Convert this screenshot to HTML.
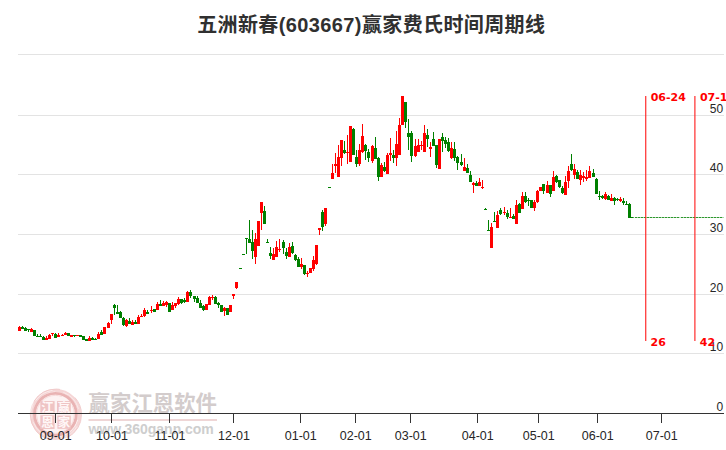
<!DOCTYPE html>
<html lang="zh"><head><meta charset="utf-8"><title>五洲新春(603667)赢家费氏时间周期线</title>
<style>
html,body{margin:0;padding:0;background:#fff}
body{width:726px;height:450px;overflow:hidden;font-family:"Liberation Sans",sans-serif}
svg{display:block}
</style></head><body>
<svg width="726" height="450" viewBox="0 0 726 450" role="img" aria-label="五洲新春(603667)赢家费氏时间周期线">
<rect width="726" height="450" fill="#fff"/>
<g id="wm">
<g fill="none">
<circle cx="55.7" cy="414.5" r="25.3" fill="#fdf3f3" stroke="none"/>
<circle cx="55.7" cy="414.5" r="23.9" stroke-width="3.3" stroke="#f5d6d6"/>
<path d="M34.51 406.79A22.55 22.55 0 0 1 54.91 391.96" stroke="#fff" stroke-width="0.75" stroke-linecap="round" opacity="0.9"/>
<path d="M35.63 400.45A24.5 24.5 0 0 1 52.29 390.24" stroke="#fff" stroke-width="0.6" stroke-linecap="round" opacity="0.9"/>
<path d="M77.53 420.35A22.6 22.6 0 0 1 57.67 437.01" stroke="#fff" stroke-width="0.75" stroke-linecap="round" opacity="0.9"/>
<path d="M76.83 426.70A24.4 24.4 0 0 1 60.77 438.37" stroke="#fff" stroke-width="0.55" stroke-linecap="round" opacity="0.9"/>
<path d="M51.60 437.74A23.6 23.6 0 0 1 33.52 422.57" stroke="#fff" stroke-width="0.5" stroke-linecap="round" opacity="0.9"/>
<path d="M63.70 392.51A23.4 23.4 0 0 1 78.30 408.44" stroke="#fff" stroke-width="0.5" stroke-linecap="round" opacity="0.9"/>
<path d="M31.08 418.84A25 25 0 0 1 33.04 403.93" stroke="#fff" stroke-width="0.5" stroke-linecap="round" opacity="0.9"/>
<circle cx="55.9" cy="414.7" r="25.6" stroke-width="0.9" stroke="#efc6c6" stroke-dasharray="48 18 36 12 30 17" stroke-dashoffset="20"/>
<circle cx="55.4" cy="414.3" r="20.9" stroke-width="2.9" stroke="#e9b3b3"/>
<circle cx="55.4" cy="414.3" r="18.9" stroke-width="0.8" stroke="#f5d6d6" stroke-dasharray="35 10 50 14"/>
</g>
<rect x="40.3" y="401.1" width="14.3" height="11.6" fill="#efc4c4"/>
<rect x="57" y="401.1" width="13.8" height="11.6" fill="#efc4c4"/>
<rect x="40.3" y="415.2" width="14.3" height="13.8" fill="#efc4c4"/>
<rect x="57.4" y="415.6" width="13.4" height="13.2" fill="#efc4c4"/>
<g font-family="'Liberation Sans','Noto Sans CJK SC',sans-serif" font-weight="bold" font-size="12.5" fill="#fff7f7" text-anchor="middle">
<text x="47.45" y="411.6">江</text>
<text x="63.9" y="411.7">赢</text>
<text x="47.45" y="426.7">恩</text>
<text x="64.1" y="427">家</text>
</g>
<text x="88.6" y="410.6" font-family="'Liberation Sans','Noto Sans CJK SC',sans-serif" font-weight="bold" font-size="21.4" fill="#d3cccc" textLength="128.4" lengthAdjust="spacing">赢家江恩软件</text>
<rect x="88.5" y="419" width="128.5" height="2" fill="#efd6d6"/>
<text x="88.5" y="434.4" font-family="'Liberation Sans',sans-serif" font-weight="bold" font-size="14" fill="#cecece" textLength="125.3" lengthAdjust="spacing">www.360gann.com</text>
</g>
<g shape-rendering="crispEdges">
<rect x="18" y="54" width="706" height="1" fill="#e3e3e3"/>
<rect x="18" y="115" width="706" height="1" fill="#e3e3e3"/>
<rect x="18" y="174" width="706" height="1" fill="#e3e3e3"/>
<rect x="18" y="234" width="706" height="1" fill="#e3e3e3"/>
<rect x="18" y="294" width="706" height="1" fill="#e3e3e3"/>
<rect x="18" y="353" width="706" height="1" fill="#e3e3e3"/>
<rect x="18" y="413" width="706" height="1" fill="#333"/>
<rect x="55" y="414" width="1" height="9" fill="#333"/>
<rect x="111" y="414" width="1" height="9" fill="#333"/>
<rect x="169" y="414" width="1" height="9" fill="#333"/>
<rect x="233" y="414" width="1" height="9" fill="#333"/>
<rect x="300" y="414" width="1" height="9" fill="#333"/>
<rect x="355" y="414" width="1" height="9" fill="#333"/>
<rect x="410" y="414" width="1" height="9" fill="#333"/>
<rect x="477" y="414" width="1" height="9" fill="#333"/>
<rect x="538" y="414" width="1" height="9" fill="#333"/>
<rect x="597" y="414" width="1" height="9" fill="#333"/>
<rect x="661" y="414" width="1" height="9" fill="#333"/>
</g>
<g id="axis-labels" fill="#262626" font-family="'Liberation Sans',sans-serif">
<g font-size="12.5" text-anchor="middle">
<text x="55.8" y="439.7">09-01</text>
<text x="112" y="439.7">10-01</text>
<text x="170" y="439.7">11-01</text>
<text x="234" y="439.7">12-01</text>
<text x="300.8" y="439.7">01-01</text>
<text x="355.8" y="439.7">02-01</text>
<text x="410.8" y="439.7">03-01</text>
<text x="477.8" y="439.7">04-01</text>
<text x="538.8" y="439.7">05-01</text>
<text x="597.8" y="439.7">06-01</text>
<text x="661.8" y="439.7">07-01</text>
</g>
<g font-size="12" text-anchor="end">
<text x="723.2" y="112.5">50</text>
<text x="723.2" y="171.5">40</text>
<text x="723.2" y="231.5">30</text>
<text x="723.2" y="291.5">20</text>
<text x="723.2" y="350.5">10</text>
<text x="723.2" y="410.5">0</text>
</g>
</g>
<g shape-rendering="crispEdges">
<path fill="#ff0000" d="M19 326h1v1h-1zM31 328h1v1h-1zM46 336h1v2h-1zM49 334h1v1h-1zM52 334h1v2h-1zM58 333h1v2h-1zM62 334h1v1h-1zM65 332h1v1h-1zM89 336h1v2h-1zM98 332h1v2h-1zM108 322h1v1h-1zM111 320h1v4h-1zM126 319h1v1h-1zM126 326h1v1h-1zM132 320h1v2h-1zM138 315h1v2h-1zM141 314h1v2h-1zM144 308h1v2h-1zM144 316h1v1h-1zM151 306h1v4h-1zM151 311h1v2h-1zM157 302h1v2h-1zM163 301h1v2h-1zM166 301h1v1h-1zM166 305h1v2h-1zM172 302h1v3h-1zM175 306h1v2h-1zM178 297h1v2h-1zM178 304h1v1h-1zM187 291h1v1h-1zM209 296h1v1h-1zM212 295h1v2h-1zM212 298h1v2h-1zM224 307h1v1h-1zM224 311h1v5h-1zM233 296h1v3h-1zM236 288h1v1h-1zM255 233h1v6h-1zM255 257h1v7h-1zM261 213h1v17h-1zM273 248h1v6h-1zM276 241h1v6h-1zM279 239h1v10h-1zM279 250h1v2h-1zM289 243h1v4h-1zM301 258h1v6h-1zM301 267h1v2h-1zM307 271h1v2h-1zM307 274h1v3h-1zM313 256h1v4h-1zM313 269h1v2h-1zM316 264h1v1h-1zM319 230h1v5h-1zM325 224h1v2h-1zM332 164h1v9h-1zM335 153h1v11h-1zM335 166h1v7h-1zM338 145h1v12h-1zM341 158h1v8h-1zM347 135h1v17h-1zM347 153h1v11h-1zM359 144h1v6h-1zM359 164h1v2h-1zM362 124h1v12h-1zM362 152h1v1h-1zM372 145h1v1h-1zM372 161h1v2h-1zM381 163h1v2h-1zM387 153h1v2h-1zM390 138h1v15h-1zM390 155h1v6h-1zM396 131h1v13h-1zM396 158h1v8h-1zM399 118h1v7h-1zM415 139h1v7h-1zM415 156h1v1h-1zM418 139h1v6h-1zM421 141h1v4h-1zM421 146h1v4h-1zM424 125h1v8h-1zM430 142h1v5h-1zM430 149h1v8h-1zM451 142h1v6h-1zM451 158h1v1h-1zM464 158h1v9h-1zM473 182h1v1h-1zM473 185h1v8h-1zM479 178h1v4h-1zM482 180h1v7h-1zM482 188h1v1h-1zM491 223h1v4h-1zM497 211h1v4h-1zM504 207h1v5h-1zM504 213h1v2h-1zM510 208h1v9h-1zM516 200h1v5h-1zM522 192h1v4h-1zM534 200h1v2h-1zM534 208h1v3h-1zM537 190h1v1h-1zM537 202h1v1h-1zM547 181h1v4h-1zM553 171h1v6h-1zM565 176h1v6h-1zM568 166h1v5h-1zM568 181h1v7h-1zM574 164h1v5h-1zM574 175h1v4h-1zM580 170h1v5h-1zM580 180h1v5h-1zM583 172h1v4h-1zM583 178h1v4h-1zM586 170h1v7h-1zM586 179h1v2h-1zM589 166h1v5h-1zM605 192h1v2h-1zM605 199h1v1h-1zM611 194h1v4h-1zM620 197h1v2h-1zM620 201h1v1h-1zM18 327h3v4h-3zM30 329h3v3h-3zM45 338h3v2h-3zM48 335h3v4h-3zM51 333h3v1h-3zM57 335h3v2h-3zM61 335h3v1h-3zM64 333h3v2h-3zM70 335h3v2h-3zM76 335h3v1h-3zM88 338h3v3h-3zM97 334h3v5h-3zM103 327h3v7h-3zM107 323h3v5h-3zM110 314h3v6h-3zM125 320h3v6h-3zM131 322h3v3h-3zM137 317h3v7h-3zM140 316h3v1h-3zM143 310h3v6h-3zM150 310h3v1h-3zM156 304h3v6h-3zM162 303h3v3h-3zM165 302h3v3h-3zM171 305h3v5h-3zM174 303h3v3h-3zM177 299h3v5h-3zM186 292h3v10h-3zM205 304h3v6h-3zM208 297h3v8h-3zM211 297h3v1h-3zM223 308h3v3h-3zM229 305h3v7h-3zM232 294h3v2h-3zM235 282h3v6h-3zM254 239h3v18h-3zM257 221h3v25h-3zM260 202h3v11h-3zM272 254h3v6h-3zM275 247h3v10h-3zM278 249h3v1h-3zM288 247h3v10h-3zM300 264h3v3h-3zM306 273h3v1h-3zM309 268h3v5h-3zM312 260h3v9h-3zM315 245h3v19h-3zM318 228h3v2h-3zM324 208h3v16h-3zM331 173h3v6h-3zM334 164h3v2h-3zM337 157h3v20h-3zM340 140h3v18h-3zM346 152h3v1h-3zM349 126h3v36h-3zM358 150h3v14h-3zM361 136h3v16h-3zM371 146h3v15h-3zM380 165h3v12h-3zM386 155h3v19h-3zM389 153h3v2h-3zM395 144h3v14h-3zM398 125h3v30h-3zM401 96h3v29h-3zM414 146h3v10h-3zM417 145h3v7h-3zM420 145h3v1h-3zM423 133h3v19h-3zM429 147h3v2h-3zM438 139h3v30h-3zM450 148h3v10h-3zM463 167h3v4h-3zM472 183h3v2h-3zM478 182h3v4h-3zM481 187h3v1h-3zM490 227h3v21h-3zM496 215h3v13h-3zM503 212h3v1h-3zM509 217h3v1h-3zM515 205h3v19h-3zM521 196h3v13h-3zM533 202h3v6h-3zM536 191h3v11h-3zM539 187h3v4h-3zM546 185h3v8h-3zM552 177h3v14h-3zM564 182h3v13h-3zM567 171h3v10h-3zM573 169h3v6h-3zM579 175h3v5h-3zM582 176h3v2h-3zM585 177h3v2h-3zM588 171h3v7h-3zM604 194h3v5h-3zM610 198h3v3h-3zM619 199h3v2h-3z"/>
<path fill="#008000" d="M22 326h1v1h-1zM25 327h1v1h-1zM28 330h1v2h-1zM37 334h1v2h-1zM40 334h1v2h-1zM43 336h1v1h-1zM55 333h1v1h-1zM74 336h1v1h-1zM92 337h1v1h-1zM95 338h1v1h-1zM101 330h1v2h-1zM114 304h1v1h-1zM114 308h1v7h-1zM117 305h1v7h-1zM120 311h1v1h-1zM123 317h1v1h-1zM123 325h1v1h-1zM129 318h1v3h-1zM135 320h1v2h-1zM147 310h1v2h-1zM160 300h1v4h-1zM181 303h1v1h-1zM184 298h1v2h-1zM184 302h1v1h-1zM190 290h1v2h-1zM190 296h1v2h-1zM194 299h1v3h-1zM197 296h1v2h-1zM200 300h1v3h-1zM203 305h1v1h-1zM203 310h1v1h-1zM215 296h1v1h-1zM218 302h1v1h-1zM218 305h1v3h-1zM246 239h1v15h-1zM249 220h1v19h-1zM252 230h1v12h-1zM252 251h1v8h-1zM264 206h1v5h-1zM267 239h1v3h-1zM270 247h1v6h-1zM270 256h1v3h-1zM283 240h1v2h-1zM283 248h1v6h-1zM286 248h1v4h-1zM286 256h1v3h-1zM292 242h1v4h-1zM292 253h1v1h-1zM295 254h1v1h-1zM295 260h1v1h-1zM298 257h1v2h-1zM304 274h1v1h-1zM322 210h1v2h-1zM322 227h1v4h-1zM344 141h1v9h-1zM344 153h1v1h-1zM353 128h1v1h-1zM356 150h1v7h-1zM356 164h1v3h-1zM365 144h1v1h-1zM365 151h1v9h-1zM368 149h1v3h-1zM368 158h1v4h-1zM375 137h1v11h-1zM378 157h1v1h-1zM378 177h1v4h-1zM384 162h1v5h-1zM384 171h1v1h-1zM393 150h1v5h-1zM393 158h1v5h-1zM405 122h1v6h-1zM408 119h1v14h-1zM408 137h1v13h-1zM411 131h1v2h-1zM411 156h1v6h-1zM427 129h1v6h-1zM427 139h1v8h-1zM433 132h1v7h-1zM436 165h1v3h-1zM442 133h1v4h-1zM442 141h1v11h-1zM445 137h1v3h-1zM445 144h1v4h-1zM448 138h1v4h-1zM448 151h1v1h-1zM454 142h1v7h-1zM454 158h1v3h-1zM457 156h1v1h-1zM457 163h1v7h-1zM461 154h1v8h-1zM461 165h1v1h-1zM467 164h1v4h-1zM470 171h1v4h-1zM476 181h1v2h-1zM485 208h1v1h-1zM488 220h1v10h-1zM494 212h1v9h-1zM500 208h1v2h-1zM500 214h1v1h-1zM507 210h1v3h-1zM507 217h1v2h-1zM513 214h1v2h-1zM519 203h1v1h-1zM525 192h1v4h-1zM525 202h1v1h-1zM528 198h1v2h-1zM528 201h1v5h-1zM543 191h1v3h-1zM550 194h1v3h-1zM556 175h1v1h-1zM556 182h1v1h-1zM559 187h1v1h-1zM562 186h1v2h-1zM562 193h1v1h-1zM571 154h1v10h-1zM571 170h1v1h-1zM577 170h1v2h-1zM593 169h1v4h-1zM596 178h1v1h-1zM599 191h1v5h-1zM599 197h1v3h-1zM602 195h1v1h-1zM602 198h1v1h-1zM608 195h1v1h-1zM614 197h1v1h-1zM614 201h1v4h-1zM617 198h1v1h-1zM617 200h1v1h-1zM623 198h1v3h-1zM623 203h1v2h-1zM626 201h1v3h-1zM629 203h1v1h-1zM21 327h3v2h-3zM24 328h3v3h-3zM27 329h3v1h-3zM33 330h3v6h-3zM36 336h3v1h-3zM39 336h3v1h-3zM42 337h3v3h-3zM54 334h3v4h-3zM67 333h3v3h-3zM73 335h3v1h-3zM79 335h3v2h-3zM82 336h3v4h-3zM85 339h3v2h-3zM91 338h3v2h-3zM94 339h3v1h-3zM100 332h3v3h-3zM113 305h3v3h-3zM116 312h3v2h-3zM119 312h3v6h-3zM122 318h3v7h-3zM128 321h3v3h-3zM134 322h3v2h-3zM146 312h3v2h-3zM153 309h3v3h-3zM159 304h3v2h-3zM168 303h3v9h-3zM180 299h3v4h-3zM183 300h3v2h-3zM189 292h3v4h-3zM193 296h3v3h-3zM196 298h3v5h-3zM199 303h3v5h-3zM202 306h3v4h-3zM214 297h3v7h-3zM217 303h3v2h-3zM220 305h3v7h-3zM226 308h3v7h-3zM239 268h3v1h-3zM242 254h3v1h-3zM245 238h3v1h-3zM248 239h3v4h-3zM251 242h3v9h-3zM263 211h3v13h-3zM266 242h3v1h-3zM269 253h3v3h-3zM282 242h3v6h-3zM285 252h3v4h-3zM291 246h3v7h-3zM294 255h3v5h-3zM297 259h3v8h-3zM303 265h3v9h-3zM321 212h3v15h-3zM328 187h3v1h-3zM343 150h3v3h-3zM352 129h3v26h-3zM355 157h3v7h-3zM364 145h3v6h-3zM367 152h3v6h-3zM374 148h3v11h-3zM377 158h3v19h-3zM383 167h3v4h-3zM392 155h3v3h-3zM404 102h3v20h-3zM407 133h3v4h-3zM410 133h3v23h-3zM426 135h3v4h-3zM432 139h3v7h-3zM435 145h3v20h-3zM441 137h3v4h-3zM444 140h3v4h-3zM447 142h3v9h-3zM453 149h3v9h-3zM456 157h3v6h-3zM460 162h3v3h-3zM466 168h3v5h-3zM469 175h3v7h-3zM475 183h3v3h-3zM484 209h3v1h-3zM487 230h3v1h-3zM493 221h3v1h-3zM499 210h3v4h-3zM506 213h3v4h-3zM512 216h3v3h-3zM518 204h3v9h-3zM524 196h3v6h-3zM527 200h3v1h-3zM530 200h3v8h-3zM542 184h3v7h-3zM549 185h3v9h-3zM555 176h3v6h-3zM558 180h3v7h-3zM561 188h3v5h-3zM570 164h3v6h-3zM576 172h3v7h-3zM592 173h3v4h-3zM595 179h3v15h-3zM598 196h3v1h-3zM601 196h3v2h-3zM607 196h3v4h-3zM613 198h3v3h-3zM616 199h3v1h-3zM622 201h3v2h-3zM625 204h3v1h-3zM628 204h3v14h-3z"/>
</g>
<path d="M631 217.5H633.7" stroke="#008000" stroke-width="1" fill="none"/>
<path d="M634.9 217.5H679.6M680.8 217.5H723.4" stroke="#008000" stroke-width="1" stroke-dasharray="2.45 0.55" fill="none" opacity="0.82"/>
<rect x="645.2" y="96" width="1.1" height="245" fill="#ff1a1a"/>
<rect x="694.35" y="96" width="1.1" height="245" fill="#ff1a1a"/>
<g font-family="'DejaVu Sans','Liberation Sans',sans-serif" font-weight="bold" font-size="11" fill="#ff0000">
<text x="650.7" y="101">06-24</text>
<text x="699.9" y="101">07-15</text>
<text x="650.6" y="345.8">26</text>
<text x="699.8" y="345.8">42</text>
</g>
<text x="197.2" y="32.3" font-family="'Liberation Sans','Noto Sans CJK SC',sans-serif" font-weight="bold" font-size="20" fill="#303030" textLength="347.8" lengthAdjust="spacing">五洲新春(603667)赢家费氏时间周期线</text>
</svg>
</body></html>
